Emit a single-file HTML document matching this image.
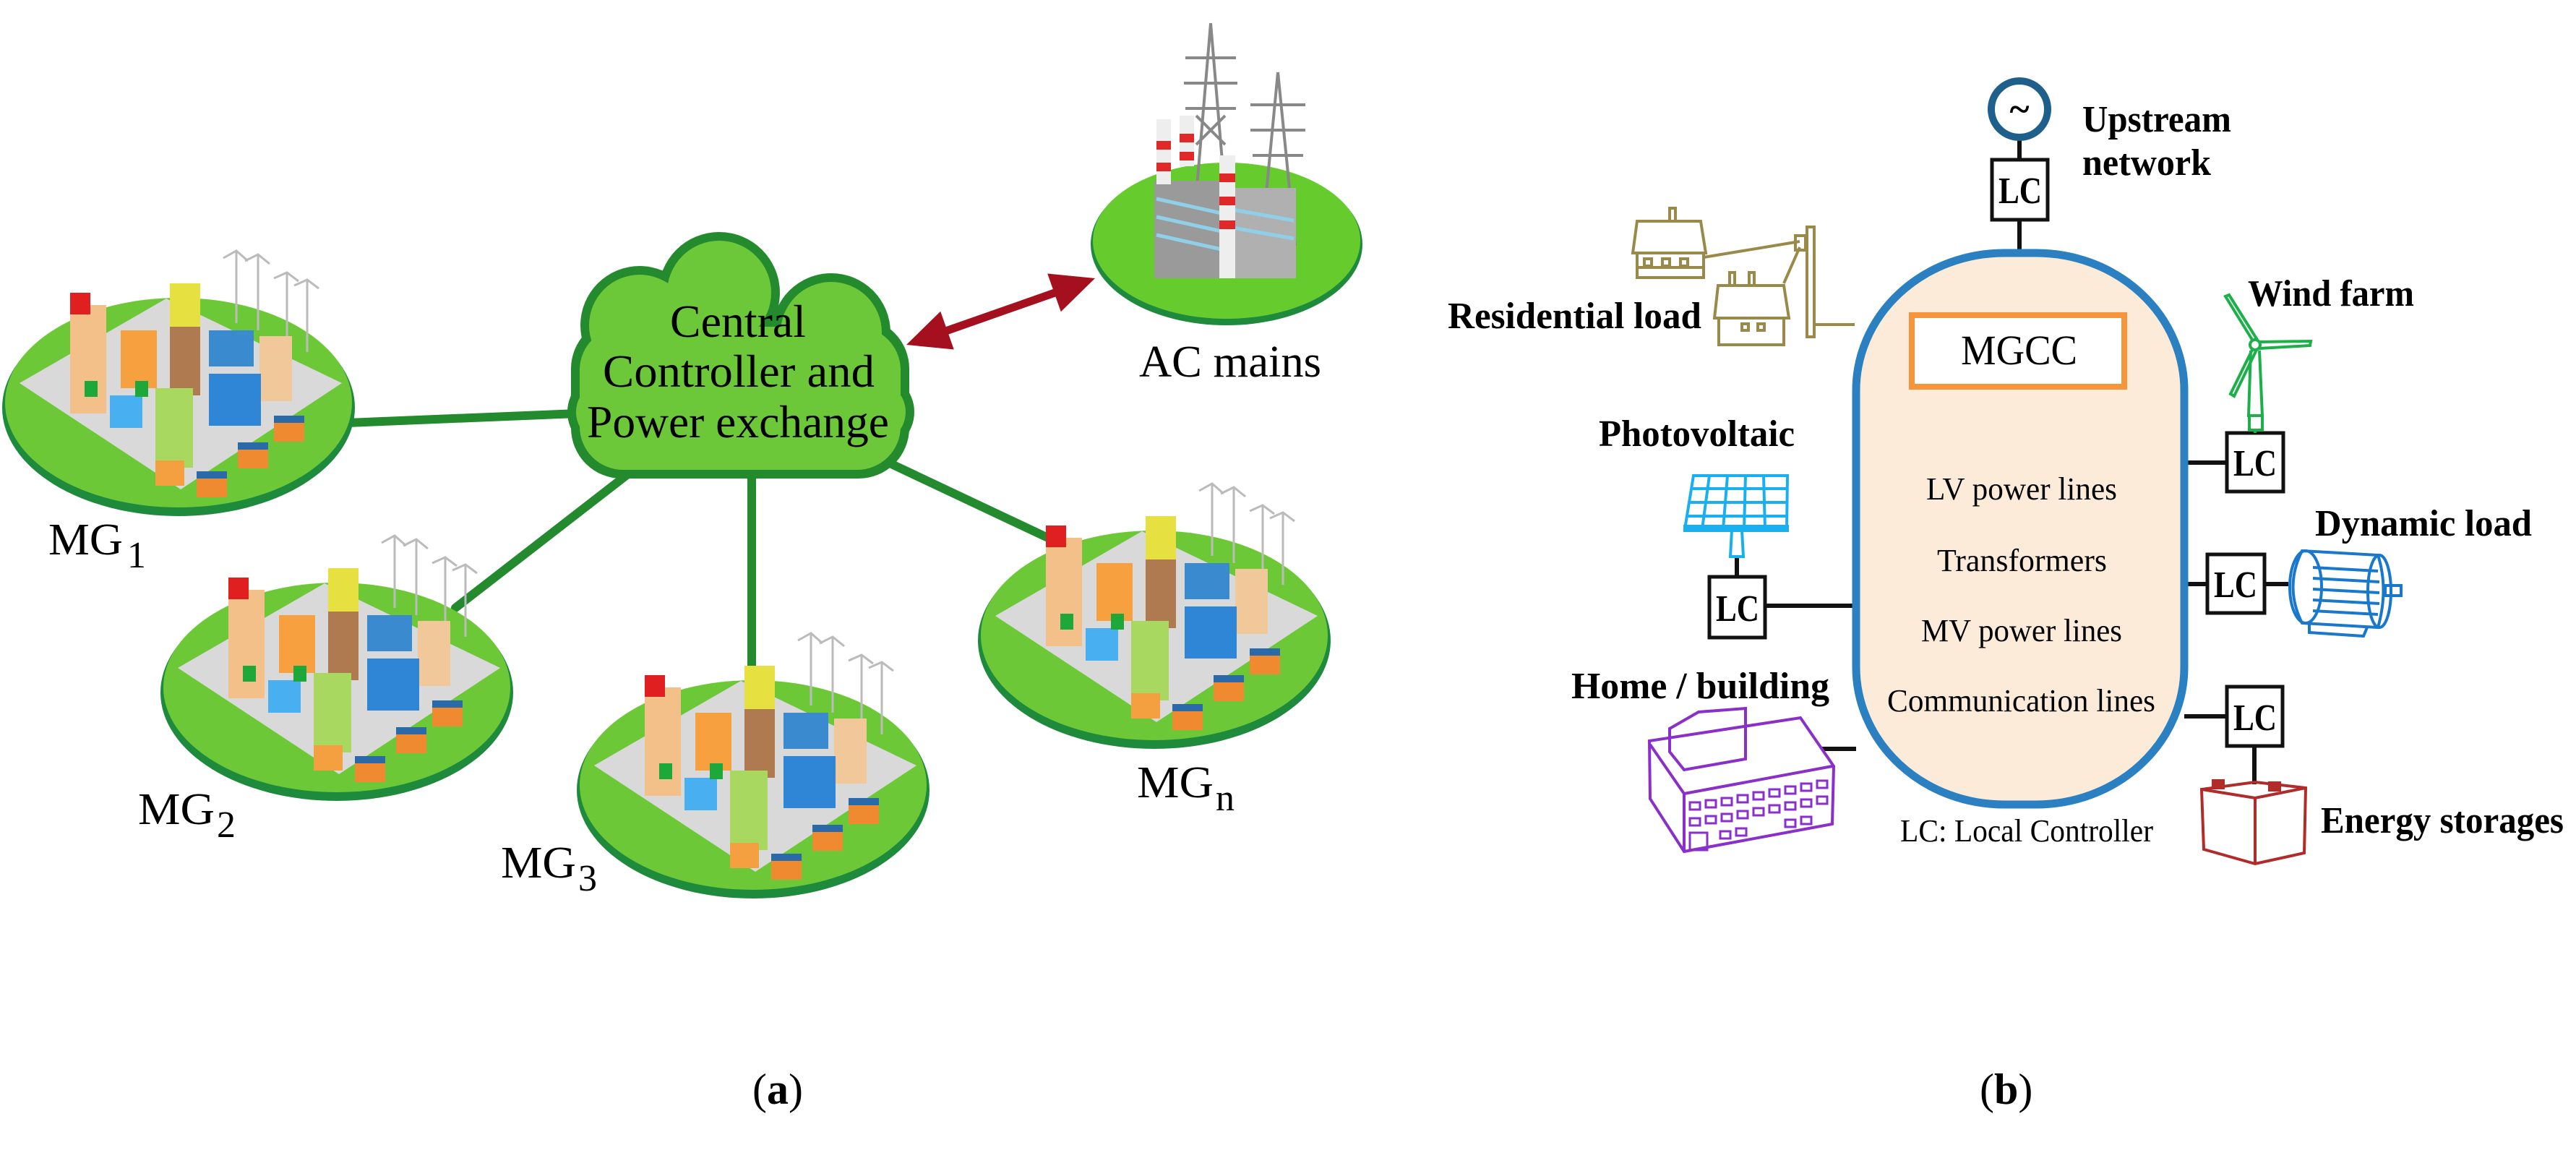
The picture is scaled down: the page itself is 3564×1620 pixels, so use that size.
<!DOCTYPE html>
<html><head><meta charset="utf-8"><style>html,body{margin:0;padding:0;background:#fff}svg{display:block}text{font-family:"Liberation Serif",serif}</style></head>
<body>
<svg width="3564" height="1620" viewBox="0 0 3564 1620" xmlns="http://www.w3.org/2000/svg">
<defs>
<g id="city">
  <ellipse cx="0" cy="7" rx="244" ry="150" fill="#1e8a3c"/>
  <ellipse cx="0" cy="0" rx="240" ry="145" fill="#6dc838"/>
  <polygon points="-220,-27 -17,-144 226,-27 3,120" fill="#d9d9d9"/>
  <g stroke="#bbb" stroke-width="3">
    <line x1="80" y1="-210" x2="80" y2="-110"/><line x1="110" y1="-205" x2="110" y2="-100"/>
    <line x1="150" y1="-180" x2="150" y2="-80"/><line x1="178" y1="-170" x2="178" y2="-70"/>
    <path d="M62,-200 L80,-210 L96,-196 M92,-196 L110,-205 L126,-192 M132,-172 L150,-180 L166,-168 M160,-162 L178,-170 L194,-158" fill="none"/>
  </g>
  <rect x="-150" y="-135" width="50" height="150" fill="#f4c08a"/>
  <rect x="-150" y="-152" width="28" height="30" fill="#e02020"/>
  <rect x="-80" y="-100" width="50" height="80" fill="#f7a040"/>
  <rect x="-12" y="-165" width="42" height="60" fill="#e6e040"/>
  <rect x="-12" y="-105" width="42" height="95" fill="#b07a50"/>
  <rect x="42" y="-100" width="62" height="50" fill="#3a8ad0"/>
  <rect x="112" y="-92" width="45" height="90" fill="#f0c89a"/>
  <rect x="42" y="-40" width="72" height="72" fill="#2f86d6"/>
  <rect x="-32" y="-20" width="52" height="110" fill="#a8d860"/>
  <rect x="-32" y="80" width="40" height="35" fill="#f4a040"/>
  <rect x="-95" y="-10" width="45" height="45" fill="#48b0f0"/>
  <rect x="-130" y="-30" width="18" height="22" fill="#1fa83a"/>
  <rect x="-60" y="-30" width="18" height="22" fill="#1fa83a"/>
  <rect x="132" y="18" width="42" height="36" fill="#f08a30"/>
  <rect x="82" y="55" width="42" height="36" fill="#f08a30"/>
  <rect x="25" y="95" width="42" height="36" fill="#f08a30"/>
  <rect x="132" y="18" width="42" height="10" fill="#2a6aa8"/>
  <rect x="82" y="55" width="42" height="10" fill="#2a6aa8"/>
  <rect x="25" y="95" width="42" height="10" fill="#2a6aa8"/>
</g>
</defs>
<rect width="3564" height="1620" fill="#fff"/>

<g stroke="#238a2e" stroke-width="12" stroke-linecap="round">
  <line x1="480" y1="585" x2="800" y2="572"/>
  <line x1="630" y1="841" x2="870" y2="655"/>
  <line x1="1040" y1="655" x2="1040" y2="935"/>
  <line x1="1225" y1="638" x2="1454" y2="746"/>
</g>

<use href="#city" x="247" y="557"/>
<use href="#city" x="466" y="951"/>
<use href="#city" x="1042" y="1086"/>
<use href="#city" x="1597" y="879"/>

<ellipse cx="1697" cy="338" rx="188" ry="112" fill="#1e8a3c"/>
<ellipse cx="1697" cy="333" rx="185" ry="108" fill="#66cc2e"/>
<g stroke="#888" stroke-width="4" fill="none">
  <path d="M1675,32 L1650,330 M1675,32 L1700,330 M1640,80 L1710,80 M1638,115 L1712,115 M1640,150 L1710,150 M1655,200 L1695,160 M1655,160 L1695,200"/>
  <path d="M1768,100 L1745,340 M1768,100 L1792,340 M1730,145 L1806,145 M1730,180 L1806,180 M1733,215 L1803,215"/>
</g>
<rect x="1597" y="250" width="98" height="135" fill="#9a9a9a"/>
<rect x="1700" y="260" width="93" height="125" fill="#b0b0b0"/>
<g stroke="#8fd0e8" stroke-width="5"><line x1="1600" y1="275" x2="1690" y2="295"/><line x1="1600" y1="300" x2="1690" y2="320"/><line x1="1600" y1="325" x2="1690" y2="345"/><line x1="1705" y1="290" x2="1790" y2="305"/><line x1="1705" y1="315" x2="1790" y2="330"/></g>
<rect x="1600" y="165" width="20" height="90" fill="#eee"/>
<rect x="1632" y="160" width="20" height="70" fill="#eee"/>
<rect x="1687" y="215" width="22" height="170" fill="#eee"/>
<g fill="#e02828"><rect x="1600" y="195" width="20" height="12"/><rect x="1600" y="225" width="20" height="12"/><rect x="1632" y="185" width="20" height="12"/><rect x="1632" y="210" width="20" height="12"/><rect x="1687" y="240" width="22" height="12"/><rect x="1687" y="272" width="22" height="12"/><rect x="1687" y="305" width="22" height="12"/></g>

<g fill="#238a2e">
  <rect x="790" y="440" width="468" height="222" rx="70"/>
  <circle cx="885" cy="450" r="82"/><circle cx="995" cy="405" r="84"/><circle cx="1150" cy="460" r="82"/>
  <circle cx="840" cy="570" r="55"/><circle cx="1210" cy="570" r="55"/>
</g>
<g fill="#6cc838">
  <rect x="802" y="452" width="444" height="198" rx="60"/>
  <circle cx="885" cy="450" r="70"/><circle cx="995" cy="405" r="72"/><circle cx="1150" cy="460" r="70"/>
  <circle cx="840" cy="570" r="43"/><circle cx="1210" cy="570" r="43"/>
</g>
<g font-size="64" fill="#000">
  <text x="927" y="466" textLength="188" lengthAdjust="spacingAndGlyphs">Central</text>
  <text x="834" y="535" textLength="376" lengthAdjust="spacingAndGlyphs">Controller and</text>
  <text x="812" y="605" textLength="418" lengthAdjust="spacingAndGlyphs">Power exchange</text>
</g>

<line x1="1300" y1="461" x2="1468" y2="402" stroke="#a5101e" stroke-width="11"/>
<polygon points="1515,385 1467.8,431.3 1449.2,378.5" fill="#a5101e"/>
<polygon points="1254,477 1319.8,483.5 1301.2,430.7" fill="#a5101e"/>

<g font-size="62" fill="#000">
  <text x="1576" y="521" textLength="252" lengthAdjust="spacingAndGlyphs">AC mains</text>
  <text x="67" y="767" textLength="103" lengthAdjust="spacingAndGlyphs">MG</text><text x="176" y="785" font-size="52">1</text>
  <text x="191" y="1140" textLength="106" lengthAdjust="spacingAndGlyphs">MG</text><text x="300" y="1158" font-size="52">2</text>
  <text x="693" y="1214" textLength="104" lengthAdjust="spacingAndGlyphs">MG</text><text x="800" y="1232" font-size="52">3</text>
  <text x="1573" y="1103" textLength="106" lengthAdjust="spacingAndGlyphs">MG</text><text x="1682" y="1121" font-size="52">n</text>
  <text x="1041" y="1527" font-size="60">(<tspan font-weight="bold">a</tspan>)</text>
  <text x="2739" y="1527" font-size="60">(<tspan font-weight="bold">b</tspan>)</text>
</g>

<g stroke="#111" stroke-width="6" fill="none">
  <line x1="2794" y1="194" x2="2794" y2="221"/><line x1="2794" y1="304" x2="2794" y2="350"/>
  <line x1="3022" y1="640" x2="3081" y2="640"/>
  <line x1="3022" y1="808" x2="3054" y2="808"/><line x1="3133" y1="808" x2="3166" y2="808"/>
  <line x1="3022" y1="991" x2="3081" y2="991"/><line x1="3119" y1="1032" x2="3119" y2="1085"/>
  <line x1="2442" y1="838" x2="2566" y2="838"/><line x1="2403" y1="770" x2="2403" y2="798"/>
  <line x1="2521" y1="1036" x2="2568" y2="1036"/>
</g>
<rect x="2568" y="350" width="454" height="763" rx="205" ry="190" fill="#fdebd9" stroke="#2a80c0" stroke-width="11"/>
<rect x="2645" y="436" width="294" height="99" fill="#fff" stroke="#f7953a" stroke-width="8"/>
<text x="2713" y="504" font-size="58" textLength="161" lengthAdjust="spacingAndGlyphs">MGCC</text>
<g font-size="44">
  <text x="2665" y="691" textLength="264" lengthAdjust="spacingAndGlyphs">LV power lines</text>
  <text x="2680" y="790" textLength="235" lengthAdjust="spacingAndGlyphs">Transformers</text>
  <text x="2658" y="887" textLength="278" lengthAdjust="spacingAndGlyphs">MV power lines</text>
  <text x="2611" y="984" textLength="371" lengthAdjust="spacingAndGlyphs">Communication lines</text>
  <text x="2629" y="1164" textLength="350" lengthAdjust="spacingAndGlyphs">LC: Local Controller</text>
</g>
<g fill="#fff" stroke="#111" stroke-width="5">
  <rect x="2756" y="221" width="77" height="83"/>
  <rect x="3081" y="599" width="78" height="81"/>
  <rect x="3054" y="767" width="79" height="81"/>
  <rect x="3081" y="950" width="77" height="82"/>
  <rect x="2365" y="798" width="77" height="84"/>
</g>
<g font-size="52" font-weight="bold">
  <text x="2765" y="281" textLength="60" lengthAdjust="spacingAndGlyphs">LC</text>
  <text x="3090" y="658" textLength="60" lengthAdjust="spacingAndGlyphs">LC</text>
  <text x="3063" y="826" textLength="60" lengthAdjust="spacingAndGlyphs">LC</text>
  <text x="3090" y="1010" textLength="60" lengthAdjust="spacingAndGlyphs">LC</text>
  <text x="2374" y="859" textLength="60" lengthAdjust="spacingAndGlyphs">LC</text>
</g>
<circle cx="2794" cy="151" r="39" fill="#fff" stroke="#1f5f8b" stroke-width="10"/>
<text x="2794" y="168" font-size="52" text-anchor="middle" font-weight="bold">~</text>

<g font-size="52" font-weight="bold">
  <text x="2881" y="182" textLength="206" lengthAdjust="spacingAndGlyphs">Upstream</text>
  <text x="2881" y="242" textLength="178" lengthAdjust="spacingAndGlyphs">network</text>
  <text x="3110" y="423" textLength="230" lengthAdjust="spacingAndGlyphs">Wind farm</text>
  <text x="3203" y="741" textLength="300" lengthAdjust="spacingAndGlyphs">Dynamic load</text>
  <text x="3211" y="1152" textLength="336" lengthAdjust="spacingAndGlyphs">Energy storages</text>
  <text x="2212" y="617" textLength="271" lengthAdjust="spacingAndGlyphs">Photovoltaic</text>
  <text x="2174" y="966" textLength="357" lengthAdjust="spacingAndGlyphs">Home / building</text>
  <text x="2003" y="454" textLength="351" lengthAdjust="spacingAndGlyphs">Residential load</text>
</g>

<g stroke="#1db04a" stroke-width="4" fill="none">
  <path d="M3114,485 L3111,575 L3130,575 L3126,485"/>
  <rect x="3112" y="575" width="18" height="20"/>
  <line x1="3120" y1="595" x2="3120" y2="599"/>
  <circle cx="3120" cy="477" r="7"/>
  <path d="M3116,470 L3079,410 L3084,408 L3123,470"/>
  <path d="M3127,473 L3197,472 L3196,478 L3126,482"/>
  <path d="M3116,484 L3086,545 L3091,548 L3122,484"/>
</g>
<g stroke="#1a78cc" stroke-width="4" fill="none">
  <path d="M3185,762 L3290,768 Q3305,815 3290,868 L3185,862 Q3160,812 3185,762 Z"/>
  <ellipse cx="3190" cy="812" rx="22" ry="50"/>
  <ellipse cx="3292" cy="818" rx="16" ry="50"/>
  <line x1="3200" y1="785" x2="3290" y2="790"/><line x1="3200" y1="800" x2="3292" y2="805"/>
  <line x1="3200" y1="815" x2="3292" y2="820"/><line x1="3200" y1="830" x2="3292" y2="835"/><line x1="3200" y1="845" x2="3290" y2="850"/>
  <rect x="3300" y="810" width="22" height="14"/>
  <path d="M3195,860 L3195,875 L3270,880 L3275,868"/>
</g>
<g stroke="#b22b2b" stroke-width="4" fill="none">
  <path d="M3046,1092 L3120,1082 L3190,1090 L3188,1180 L3120,1195 L3049,1175 Z"/>
  <path d="M3046,1092 L3120,1104 L3190,1090 M3120,1104 L3120,1195"/>
  <rect x="3062" y="1080" width="14" height="10" fill="#b22b2b"/>
  <rect x="3140" y="1083" width="14" height="10" fill="#b22b2b"/>
</g>
<g stroke="#8a2fc9" stroke-width="4" fill="none">
  <path d="M2282,1025 L2491,993 L2537,1060 L2535,1140 L2330,1178 L2283,1105 Z"/>
  <path d="M2283,1030 L2330,1098 L2535,1060 M2330,1098 L2330,1178"/>
  <path d="M2310,1008 L2350,985 L2415,980 L2415,1050 L2330,1065 L2310,1040 Z"/>
  <g stroke-width="3">
    <rect x="2338" y="1110" width="14" height="10"/><rect x="2360" y="1107" width="14" height="10"/><rect x="2382" y="1104" width="14" height="10"/><rect x="2404" y="1100" width="14" height="10"/><rect x="2426" y="1096" width="14" height="10"/><rect x="2448" y="1092" width="14" height="10"/><rect x="2470" y="1088" width="14" height="10"/><rect x="2492" y="1084" width="14" height="10"/><rect x="2514" y="1080" width="14" height="10"/>
    <rect x="2338" y="1132" width="14" height="10"/><rect x="2360" y="1129" width="14" height="10"/><rect x="2382" y="1126" width="14" height="10"/><rect x="2404" y="1122" width="14" height="10"/><rect x="2426" y="1118" width="14" height="10"/><rect x="2448" y="1114" width="14" height="10"/><rect x="2470" y="1110" width="14" height="10"/><rect x="2492" y="1106" width="14" height="10"/><rect x="2514" y="1102" width="14" height="10"/>
    <rect x="2338" y="1152" width="24" height="24"/><rect x="2380" y="1150" width="14" height="10"/><rect x="2402" y="1146" width="14" height="10"/><rect x="2470" y="1134" width="14" height="10"/><rect x="2492" y="1130" width="14" height="10"/>
  </g>
</g>
<g stroke="#1ab0f0" stroke-width="4" fill="none">
  <path d="M2343,658 L2473,658 L2472,732 L2331,732 Z"/>
  <line x1="2339" y1="676" x2="2472" y2="676"/><line x1="2336" y1="695" x2="2472" y2="695"/><line x1="2333" y1="714" x2="2472" y2="714"/>
  <line x1="2365" y1="658" x2="2355" y2="732"/><line x1="2390" y1="658" x2="2384" y2="732"/><line x1="2415" y1="658" x2="2413" y2="732"/><line x1="2440" y1="658" x2="2442" y2="732"/>
  <rect x="2331" y="728" width="142" height="6" fill="#1ab0f0"/>
  <path d="M2396,734 L2394,770 L2412,770 L2410,734"/>
</g>
<g stroke="#9a8a4a" stroke-width="4" fill="none">
  <path d="M2265,306 L2353,306 L2360,350 L2259,350 Z"/>
  <rect x="2265" y="350" width="92" height="34"/>
  <rect x="2310" y="288" width="8" height="18"/>
  <rect x="2275" y="358" width="10" height="10"/><rect x="2300" y="358" width="10" height="10"/><rect x="2325" y="358" width="10" height="10"/>
  <line x1="2265" y1="370" x2="2357" y2="370"/>
  <path d="M2377,395 L2468,395 L2475,440 L2372,440 Z"/>
  <rect x="2378" y="440" width="90" height="37"/>
  <rect x="2393" y="377" width="7" height="18"/><rect x="2420" y="377" width="7" height="18"/>
  <rect x="2410" y="448" width="9" height="9"/><rect x="2432" y="448" width="9" height="9"/>
  <line x1="2357" y1="356" x2="2490" y2="334"/>
  <line x1="2468" y1="392" x2="2490" y2="342"/>
  <rect x="2500" y="314" width="10" height="152"/>
  <rect x="2484" y="326" width="14" height="20"/>
  <line x1="2510" y1="449" x2="2566" y2="449"/>
</g>
</svg>
</body></html>
